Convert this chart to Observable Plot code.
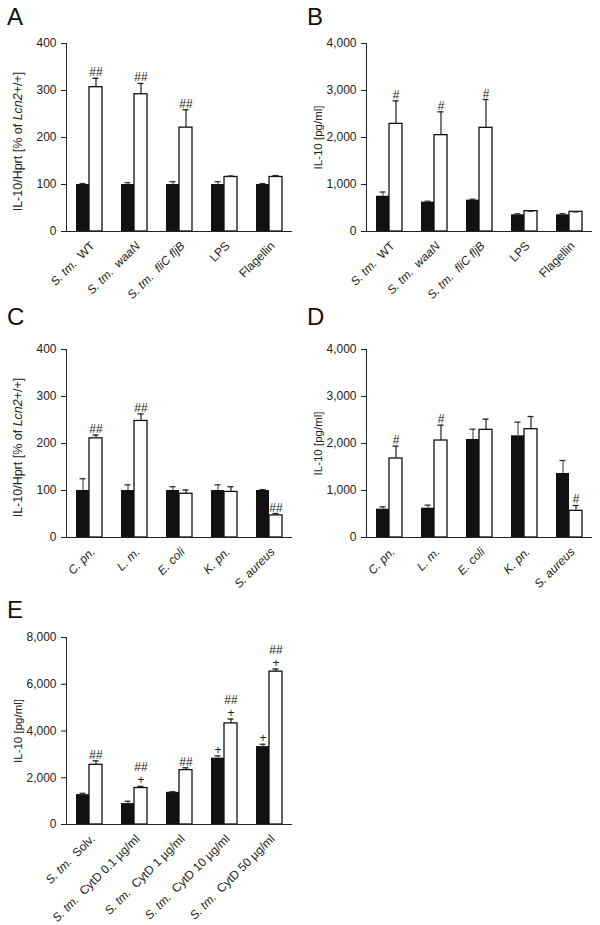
<!DOCTYPE html>
<html><head><meta charset="utf-8">
<script src="https://cdn.jsdelivr.net/npm/d3@7"></script>
<script src="https://cdn.jsdelivr.net/npm/@observablehq/plot@0.6"></script>
<style>
html,body{margin:0;padding:0;background:#fff;}
#page{position:relative;width:600px;height:925px;overflow:hidden;background:#fff;font-family:"Liberation Sans",Arial,sans-serif;}
.panel{position:absolute;}
.panel svg{display:block;}
.letter{position:absolute;font-size:24px;line-height:24px;color:#111;}
</style></head><body><div id="page"></div>
<script>
// ---------- data ----------
const catsA = ["S. tm.  WT", "S. tm.  waaN", "S. tm.  fliC fljB", "LPS", "Flagellin"];
const aBlack = [100, 100, 100, 100, 100];
const aBlackSem = [2, 4, 6, 6, 2];
const aWhite = [307, 292, 221, 116, 116];
const aWhiteSem = [19, 23, 38, 2, 3];
const aWhiteMarks = ["##", "##", "##", "", ""];

const bBlack = [750, 624, 667, 355, 355];
const bBlackSem = [90, 20, 20, 22, 25];
const bWhite = [2290, 2050, 2206, 433, 418];
const bWhiteSem = [490, 496, 602, 0, 0];
const bWhiteMarks = ["#", "#", "#", "", ""];

const catsC = ["C. pn.", "L. m.", "E. coli", "K. pn.", "S. aureus"];
const cBlack = [100, 100, 100, 100, 100];
const cBlackSem = [25, 12, 8, 12, 2];
const cWhite = [211, 248, 93, 97, 47];
const cWhiteSem = [7, 15, 8, 11, 4];
const cWhiteMarks = ["##", "##", "", "", "##"];

const dBlack = [603, 624, 2085, 2163, 1362];
const dBlackSem = [49, 64, 220, 291, 276];
const dWhite = [1681, 2064, 2291, 2305, 567];
const dWhiteSem = [262, 326, 227, 269, 114];
const dWhiteMarks = ["#", "#", "", "", "#"];

const catsE = ["S. tm.  Solv.", "S. tm.  CytD 0.1 µg/ml", "S. tm.  CytD 1 µg/ml", "S. tm.  CytD 10 µg/ml", "S. tm.  CytD 50 µg/ml"];
const eBlack = [1277, 894, 1376, 2837, 3333];
const eBlackSem = [56, 99, 28, 99, 100];
const eWhite = [2553, 1560, 2326, 4326, 6539];
const eWhiteSem = [170, 71, 100, 185, 113];
const eBlackMarks = ["", "", "", "+", "+"];
const eWhiteMarks = ["##", "##\n+", "##", "##\n+", "##\n+"];

const ticksPct = [0, 100, 200, 300, 400];
const ticksPg = [0, 1000, 2000, 3000, 4000];
const ticksPgE = [0, 2000, 4000, 6000, 8000];
const labelPct = "IL-10/Hprt [% of Lcn2+/+]";
const labelPg = "IL-10 [pg/ml]";
const italicTerms = ["S. tm.", "waaN", "fliC fljB", "C. pn.", "L. m.", "E. coli", "K. pn.", "S. aureus", "Lcn2"];

// ---------- layout ----------
const FONT = "'Liberation Sans', Arial, Helvetica, sans-serif";
const W = 300, ML = 66, MR = 8;
const PI = 0.4235, PO = 0.217;
const STEP = (W - ML - MR) / (5 - PI + 2 * PO);
const BW = STEP * (1 - PI);
const HALF = BW / 2;
const CAP = 3;

function italicize(svg) {
  const esc = s => s.replace(/[.*+?^${}()|[\]\\]/g, "\\$&");
  const re = new RegExp("(" + italicTerms.map(esc).join("|") + ")");
  svg.querySelectorAll("text").forEach(t => {
    if (t.querySelector("tspan")) return;
    const s = t.textContent;
    if (!re.test(s)) return;
    const parts = s.split(re).filter(p => p !== "");
    t.textContent = "";
    for (const p of parts) {
      const ts = document.createElementNS("http://www.w3.org/2000/svg", "tspan");
      if (italicTerms.includes(p)) ts.setAttribute("font-style", "italic");
      ts.textContent = p;
      t.appendChild(ts);
    }
  });
}

function panel(o) {
  const rows = o.cats.map((c, i) => ({
    cat: c,
    black: o.black[i], bErr: o.black[i] + o.blackSem[i],
    white: o.white[i], wErr: o.white[i] + o.whiteSem[i],
    bMark: o.blackMarks ? o.blackMarks[i] : "",
    wMark: o.whiteMarks[i]
  }));
  const fmt = o.comma ? d3.format(",") : d3.format("d");
  const svg = Plot.plot({
    width: W, height: o.height,
    marginLeft: ML, marginRight: MR, marginTop: o.mt, marginBottom: o.mb,
    style: {background: "white", overflow: "visible", color: "#222", fontFamily: FONT, fontSize: "12px"},
    x: {domain: o.cats, paddingInner: PI, paddingOuter: PO},
    y: {domain: o.domain, ticks: o.ticks, tickFormat: fmt, tickSize: 5, tickPadding: 5, label: null, line: true},
    marks: [
      Plot.axisX({tickRotate: -45, tickSize: 0, tickPadding: 9, textAnchor: "end", lineAnchor: "top", label: null}),
      Plot.barY(rows, {x: "cat", y: "black", fill: "#111", insetRight: HALF}),
      Plot.barY(rows, {x: "cat", y: "white", fill: "white", stroke: "#111", strokeWidth: 1.3, insetLeft: HALF}),
      Plot.ruleX(rows, {x: "cat", y1: "black", y2: "bErr", dx: -HALF / 2, stroke: "#555", strokeWidth: 1.2}),
      Plot.tickY(rows, {x: "cat", y: "bErr", insetLeft: HALF / 2 - CAP, insetRight: BW - HALF / 2 - CAP, stroke: "#333", strokeWidth: 1.3}),
      Plot.ruleX(rows, {x: "cat", y1: "white", y2: "wErr", dx: HALF / 2, stroke: "#222", strokeWidth: 1.2}),
      Plot.tickY(rows, {x: "cat", y: "wErr", insetLeft: BW - HALF / 2 - CAP, insetRight: HALF / 2 - CAP, stroke: "#222", strokeWidth: 1.3}),
      Plot.ruleY([o.domain[0]], {stroke: "#222"}),
      Plot.text(rows, {x: "cat", y: "bErr", text: "bMark", dx: -HALF / 2, dy: -2, lineAnchor: "bottom", fontSize: 12, lineHeight: 1.1, fill: "#222"}),
      Plot.text(rows, {x: "cat", y: "wErr", text: "wMark", dx: HALF / 2, dy: -2, lineAnchor: "bottom", fontSize: 12, lineHeight: 1.1, fill: "#222"}),
      Plot.text([o.label], {frameAnchor: "left", text: d => d, rotate: -90, dx: -45, dy: o.labelDy, textAnchor: "middle", lineAnchor: "bottom", fontSize: o.labelSize, fill: "#222"})
    ]
  });
  svg.style.fontFamily = FONT;
  svg.style.fontSize = "12px";
  italicize(svg);
  const div = document.createElement("div");
  div.className = "panel";
  div.style.left = o.left + "px";
  div.style.top = o.top + "px";
  div.appendChild(svg);
  document.getElementById("page").appendChild(div);
  const L = document.createElement("div");
  L.className = "letter";
  L.textContent = o.letter;
  L.style.left = (o.left + 7) + "px";
  L.style.top = o.letterTop + "px";
  document.getElementById("page").appendChild(L);
}

panel({letter: "A", left: 0, top: 0, height: 300, mt: 43, mb: 69, letterTop: 5, cats: catsA, black: aBlack, blackSem: aBlackSem, white: aWhite, whiteSem: aWhiteSem, whiteMarks: aWhiteMarks, domain: [0, 400], ticks: ticksPct, label: labelPct, labelSize: 12.5, labelDy: 4});
panel({letter: "B", left: 300, top: 0, height: 300, mt: 43, mb: 69, letterTop: 5, cats: catsA, black: bBlack, blackSem: bBlackSem, white: bWhite, whiteSem: bWhiteSem, whiteMarks: bWhiteMarks, domain: [0, 4000], ticks: ticksPg, comma: true, label: labelPg, labelSize: 11.5, labelDy: 0});
panel({letter: "C", left: 0, top: 300, height: 300, mt: 49, mb: 63, letterTop: 305, cats: catsC, black: cBlack, blackSem: cBlackSem, white: cWhite, whiteSem: cWhiteSem, whiteMarks: cWhiteMarks, domain: [0, 400], ticks: ticksPct, label: labelPct, labelSize: 12.5, labelDy: 4});
panel({letter: "D", left: 300, top: 300, height: 300, mt: 49, mb: 63, letterTop: 305, cats: catsC, black: dBlack, blackSem: dBlackSem, white: dWhite, whiteSem: dWhiteSem, whiteMarks: dWhiteMarks, domain: [0, 4000], ticks: ticksPg, comma: true, label: labelPg, labelSize: 11.5, labelDy: 0});
panel({letter: "E", left: 0, top: 600, height: 325, mt: 37, mb: 101, letterTop: 598, cats: catsE, black: eBlack, blackSem: eBlackSem, white: eWhite, whiteSem: eWhiteSem, blackMarks: eBlackMarks, whiteMarks: eWhiteMarks, domain: [0, 8000], ticks: ticksPgE, comma: true, label: labelPg, labelSize: 11.5, labelDy: 0});
</script>
</body></html>
